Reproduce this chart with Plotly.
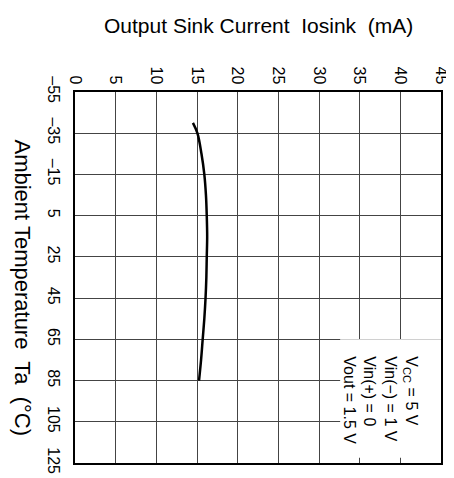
import plotly.graph_objects as go

# Data (chart is drawn rotated: temperature runs top->bottom)
temperature = [-40, -35, -25, -15, -5, 5, 15, 25, 35, 45, 55, 65, 75, 85]
sink_current = [14.5, 15.05, 15.55, 15.9, 16.1, 16.2, 16.25, 16.2, 16.15, 16.05, 15.9, 15.7, 15.5, 15.25]

current_ticks = [0, 5, 10, 15, 20, 25, 30, 35, 40, 45]
current_labels = ["0", "5", "10", "15", "20", "25", "30", "35", "40", "45"]
temp_ticks = [-55, -35, -15, 5, 25, 45, 65, 85, 105, 125]
temp_labels = ["–55", "–35", "–15", "5", "25", "45", "65", "85", "105", "125"]

FONT = "Liberation Sans, Arial, Helvetica, sans-serif"

fig = go.Figure()
fig.add_trace(go.Scatter(
    x=sink_current, y=temperature, mode="lines",
    line=dict(color="black", width=2.5, shape="spline"),
    showlegend=False, hoverinfo="skip",
))

# white box behind the conditions text (covers grid lines)
fig.add_shape(type="rect", xref="x", yref="y", x0=32.6, x1=45, y0=65, y1=122.5,
              fillcolor="white", line=dict(width=0), layer="between")

fig.add_annotation(
    xref="x", yref="y", x=37.6, y=94.5,
    text="V<sub>CC</sub> = 5 V<br>Vin(−) = 1 V<br>Vin(+) = 0<br>Vout = 1.5 V",
    showarrow=False, textangle=90, align="left",
    xanchor="center", yanchor="middle",
    font=dict(family=FONT, size=16, color="black"),
)

fig.add_annotation(
    xref="paper", yref="paper", x=0.5, y=1.0, yshift=67,
    xanchor="center", yanchor="middle",
    text="Output Sink Current  Iosink  (mA)", showarrow=False,
    font=dict(family=FONT, size=21, color="black"),
)
fig.add_annotation(
    xref="paper", yref="paper", x=0, y=0.5, xshift=-53, yshift=-10,
    xanchor="center", yanchor="middle",
    text="Ambient Temperature  Ta  (°C)", showarrow=False, textangle=90,
    font=dict(family=FONT, size=22, color="black"),
)

fig.update_layout(
    width=454, height=478,
    margin=dict(l=67, r=17, t=84, b=18),
    paper_bgcolor="white", plot_bgcolor="white",
    font=dict(family=FONT, size=16, color="black"),
    xaxis=dict(
        side="top", range=[0, 45], tickvals=current_ticks, ticktext=current_labels,
        tickangle=90, showgrid=True, gridcolor="#444", gridwidth=1,
        showline=True, linecolor="black", linewidth=2, mirror=True,
        ticks="", zeroline=False, fixedrange=True,
    ),
    yaxis=dict(
        range=[125, -55], tickvals=temp_ticks, ticktext=temp_labels,
        tickangle=90, showgrid=True, gridcolor="#444", gridwidth=1,
        showline=True, linecolor="black", linewidth=2, mirror=True,
        ticks="outside", ticklen=6, tickcolor="rgba(0,0,0,0)", zeroline=False, fixedrange=True,
    ),
)

fig.write_html("out.html")
